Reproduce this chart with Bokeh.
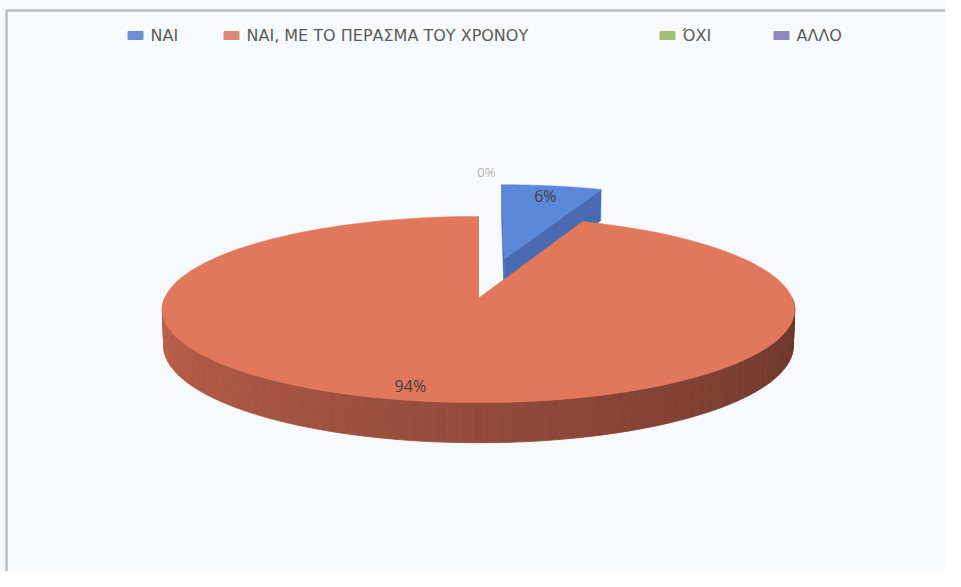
import numpy as np
from bokeh.plotting import figure
from bokeh.models import Range1d, ColumnDataSource
from bokeh.core.properties import value
from bokeh.embed import file_html
from bokeh.resources import INLINE

# ---------------- data ----------------
categories = ["ΝΑΙ", "ΝΑΙ, ΜΕ ΤΟ ΠΕΡΑΣΜΑ ΤΟΥ ΧΡΟΝΟΥ", "ΌΧΙ", "ΑΛΛΟ"]
values = [6, 94, 0, 0]
pct_labels = ["6%", "94%", "0%", "0%"]
explode = [0.46, 0.0, 0.0, 0.0]

top_colors = ["#5B88D8", "#E2785B", "#9BBB59", "#8064A2"]
side_colors = ["#4A6BB3", "#B55F48", "#7C9647", "#665082"]
legend_colors = ["#6E8FD2", "#D98977", "#A3BE73", "#8C88C2"]

# ---------------- view / projection ----------------
W, H = 945, 571
CX, CY = 478.0, 298.0          # projected pie centre (px)
S, C = np.sin(np.radians(17)), np.cos(np.radians(17))
D = 8.09
F = 314.0 * D
DEPTH = 0.12


def proj(x, y, z):
    x = np.asarray(x, float); y = np.asarray(y, float); z = np.asarray(z, float)
    v = y * S + z * C
    w = D + y * C - z * S
    return CX + F * x / w, CY - F * v / w


p = figure(width=W, height=H, output_backend="svg", toolbar_location=None,
           x_range=Range1d(0, W), y_range=Range1d(H, 0),
           min_border=0)
p.axis.visible = False
p.grid.visible = False
p.background_fill_color = "#F7FAFC"
p.border_fill_color = "#F7FAFC"
p.outline_line_color = None

# frame of the scanned chart area
p.line([6, 6, W], [H, 10, 10], line_color="#B8BEC6", line_width=2.5)

total = float(sum(values))
starts, ends = [], []
acc = 0.0
for v in values:
    starts.append(2 * np.pi * acc / total)
    acc += v
    ends.append(2 * np.pi * acc / total)


def offset(i):
    mid = (starts[i] + ends[i]) / 2
    return explode[i] * np.sin(mid), explode[i] * np.cos(mid)


def top_face(i, n=120):
    ox, oy = offset(i)
    th = np.linspace(starts[i], ends[i], n)
    xs = np.concatenate([[ox], ox + np.sin(th)])
    ys = np.concatenate([[oy], oy + np.cos(th)])
    return proj(xs, ys, np.zeros_like(xs))


def cut_face(i, ang):
    ox, oy = offset(i)
    xs = np.array([ox, ox + np.sin(ang), ox + np.sin(ang), ox])
    ys = np.array([oy, oy + np.cos(ang), oy + np.cos(ang), oy])
    zs = np.array([0, 0, -DEPTH, -DEPTH])
    return proj(xs, ys, zs)


def mix(c1, c2, t):
    a = [int(c1[k:k + 2], 16) for k in (1, 3, 5)]
    b = [int(c2[k:k + 2], 16) for k in (1, 3, 5)]
    return "#%02x%02x%02x" % tuple(int(round(a[j] + (b[j] - a[j]) * t)) for j in range(3))


# back (exploded) slice first
order = [0, 1]
for i in order:
    if values[i] == 0:
        continue
    for ang in (starts[i], ends[i]):
        fx, fy = cut_face(i, ang)
        p.patch(fx, fy, fill_color=side_colors[i], line_color=side_colors[i], line_width=0.5)
    a0 = max(starts[i], np.pi / 2)
    a1 = min(ends[i], 3 * np.pi / 2)
    if a1 > a0:
        ox, oy = offset(i)
        th = np.linspace(a0, a1, 90)
        wx, wy, cols = [], [], []
        for k in range(len(th) - 1):
            t0, t1 = th[k], th[k + 1]
            xs = ox + np.array([np.sin(t0), np.sin(t1), np.sin(t1), np.sin(t0)])
            ys = oy + np.array([np.cos(t0), np.cos(t1), np.cos(t1), np.cos(t0)])
            zs = np.array([0, 0, -DEPTH, -DEPTH])
            px, py = proj(xs, ys, zs)
            wx.append(list(px)); wy.append(list(py))
            tt = ((t0 + t1) / 2 - np.pi / 2) / np.pi
            cols.append(mix("#66332A", "#C0624B", tt))
        src = ColumnDataSource(dict(xs=wx, ys=wy, c=cols))
        p.patches("xs", "ys", source=src, fill_color="c", line_color="c", line_width=0.8)
    tx, ty = top_face(i)
    p.patch(tx, ty, fill_color=top_colors[i], line_color=top_colors[i], line_width=0.5)

# data labels
label_r = [0.85, 0.88]
label_turn = [0.0, 0.035]
lx, ly, lt = [], [], []
for i in range(2):
    ox, oy = offset(i)
    mid = (starts[i] + ends[i]) / 2 + label_turn[i]
    x, y = proj(ox + label_r[i] * np.sin(mid), oy + label_r[i] * np.cos(mid), 0.0)
    lx.append(float(x)); ly.append(float(y)); lt.append(pct_labels[i])
p.text(lx, ly, text=lt, text_align="center", text_baseline="middle",
       text_font=value("Open Sans"), text_font_size="16px", text_color="#404040")

# the two 0% labels overlap at the top of the pie
zx, zy = proj(0.03, 1.64, 0.0)
p.text([float(zx)], [float(zy)], text=[pct_labels[2]], text_align="center",
       text_baseline="middle", text_font=value("Open Sans"), text_font_size="13px",
       text_color="#9A9A9A", text_alpha=0.75)

# legend (top)
leg_x = [135, 231, 667, 781]
leg_y = 35
p.rect(leg_x, [leg_y] * 4, width=15, height=8,
       fill_color=legend_colors, line_color=legend_colors)
p.text([x + 15 for x in leg_x], [leg_y] * 4, text=categories, text_baseline="middle",
       text_font=value("DejaVu Sans"), text_font_size="16px", text_color="#5A5A5A")

open("out.html", "w").write(file_html(p, INLINE))
